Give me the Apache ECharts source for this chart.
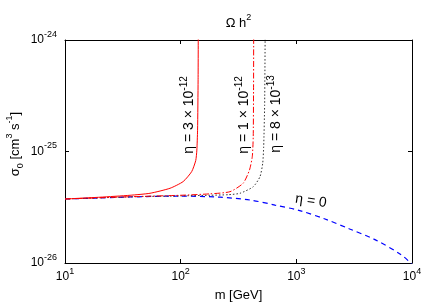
<!DOCTYPE html>
<html><head><meta charset="utf-8">
<script src="https://cdn.jsdelivr.net/npm/echarts@6/dist/echarts.min.js"></script>
<style>html,body{margin:0;padding:0;background:#fff}#c{width:436px;height:305px}</style>
</head><body><div id="c"></div>
<script>
// ---- data ----
const xTickExponents = [1, 2, 3, 4];        // m axis: 10^1 .. 10^4 GeV
const yTickExponents = [-26, -25, -24];     // sigma axis: 10^-26 .. 10^-24

// eta = 0 (blue dashed)
const massEta0  = [10, 20, 36.5, 60, 100, 219, 398, 653, 1070, 1770, 2890, 4790, 7930, 9560, 10000];
const sigmaEta0 = [3.75e-26, 3.83e-26, 3.91e-26, 3.96e-26, 3.98e-26, 3.89e-26, 3.67e-26, 3.31e-26, 2.95e-26, 2.48e-26, 2.02e-26, 1.62e-26, 1.20e-26, 1.02e-26, 0.97e-26];

// eta = 3e-12 (red solid)
const massEta3e12  = [10, 20, 36.5, 54.3, 80.9, 105, 124.5, 135, 138, 140, 141.5, 142];
const sigmaEta3e12 = [3.75e-26, 3.89e-26, 4.05e-26, 4.22e-26, 4.68e-26, 5.37e-26, 6.6e-26, 8.3e-26, 1.03e-25, 1.55e-25, 4.4e-25, 1.3e-24];

// eta = 1e-12 (red dash-dot)
const massEta1e12  = [10, 36.5, 100, 179, 267, 347, 393, 416, 424, 426.5, 428];
const sigmaEta1e12 = [3.75e-26, 3.93e-26, 4.05e-26, 4.17e-26, 4.36e-26, 5.19e-26, 6.8e-26, 8.97e-26, 1.36e-25, 3.2e-25, 1.3e-24];

// eta = 8e-13 (black dotted)
const massEta8e13  = [10, 36.5, 100, 179, 260, 326, 424, 485, 512, 522, 532, 538];
const sigmaEta8e13 = [3.75e-26, 3.92e-26, 4.0e-26, 4.05e-26, 4.1e-26, 4.22e-26, 4.83e-26, 5.94e-26, 7.83e-26, 1.1e-25, 2.6e-25, 1.3e-24];

const curveLabels = ['η = 3 × 10{s|-12}', 'η = 1 × 10{s|-12}', 'η = 8 × 10{s|-13}', 'η = 0'];

// ---- chart ----
// y values are plotted in units of 1e-26 cm^3/s to keep the log scale numerically safe
const Y_UNIT_EXP = -26;
const Y_UNIT = Math.pow(10, Y_UNIT_EXP);
const FONT = '"Liberation Sans", Arial, Helvetica, sans-serif';
const pairs = (xs, ys) => xs.map((x, i) => [x, ys[i] / Y_UNIT]);
const richSup = {
  b: { fontSize: 12, lineHeight: 20, fontFamily: FONT, color: '#000' },
  s: { fontSize: 9, lineHeight: 9, verticalAlign: 'top', fontFamily: FONT, color: '#000' }
};
const expOf = v => Math.round(Math.log10(v));

const chart = echarts.init(document.getElementById('c'), null, { renderer: 'canvas' });

const frameLine = { show: true, lineStyle: { color: '#000', width: 1 } };
const tickIn = { show: true, inside: true, length: 4, lineStyle: { color: '#000', width: 1 } };

const xMin = Math.pow(10, xTickExponents[0]), xMax = Math.pow(10, xTickExponents[xTickExponents.length - 1]);
const yMin = Math.pow(10, yTickExponents[0] - Y_UNIT_EXP), yMax = Math.pow(10, yTickExponents[yTickExponents.length - 1] - Y_UNIT_EXP);

const option = {
  animation: false,
  backgroundColor: '#fff',
  grid: { left: 65, right: 24, top: 40, bottom: 42, containLabel: false, outerBoundsMode: 'none' },
  xAxis: [
    {
      type: 'log', logBase: 10, min: xMin, max: xMax, position: 'bottom',
      axisLine: frameLine, axisTick: tickIn, splitLine: { show: false },
      axisLabel: { margin: 4, formatter: v => '{b|10}{s|' + expOf(v) + '}', rich: richSup },
      name: 'm [GeV]', nameLocation: 'middle', nameGap: 26,
      nameTextStyle: { fontFamily: FONT, fontSize: 13, color: '#000' }
    },
    {
      type: 'log', logBase: 10, min: xMin, max: xMax, position: 'top',
      axisLine: frameLine, axisTick: tickIn, axisLabel: { show: false }, splitLine: { show: false }
    }
  ],
  yAxis: [
    {
      type: 'log', logBase: 10, min: yMin, max: yMax, position: 'left',
      axisLine: frameLine, axisTick: tickIn, splitLine: { show: false },
      axisLabel: { margin: 8, formatter: v => '{b|10}{s|' + (expOf(v) + Y_UNIT_EXP) + '}', rich: richSup }
    },
    {
      type: 'log', logBase: 10, min: yMin, max: yMax, position: 'right',
      axisLine: frameLine, axisTick: tickIn, axisLabel: { show: false }, splitLine: { show: false }
    }
  ],
  series: [
    { type: 'line', data: pairs(massEta0, sigmaEta0), showSymbol: false, smooth: 0.3, clip: true,
      lineStyle: { color: '#0000ff', width: 1.2, type: [5, 4] } },
    { type: 'line', data: pairs(massEta8e13, sigmaEta8e13), showSymbol: false, smooth: 0.2, clip: true,
      lineStyle: { color: '#333', width: 1, type: [1.5, 2] } },
    { type: 'line', data: pairs(massEta1e12, sigmaEta1e12), showSymbol: false, smooth: 0.2, clip: true,
      lineStyle: { color: '#ff0000', width: 1, type: [6, 2, 1.5, 2] } },
    { type: 'line', data: pairs(massEta3e12, sigmaEta3e12), showSymbol: false, smooth: 0.2, clip: true,
      lineStyle: { color: '#ff0000', width: 1, type: 'solid' } }
  ]
};
chart.setOption(option);

// annotations
const labRich = {
  s: { fontSize: 10, lineHeight: 10, verticalAlign: 'top', fontFamily: FONT, fill: '#000' }
};
function rotText(text, x, y, rot) {
  return {
    type: 'text', x: x, y: y, rotation: rot, silent: true,
    style: { text: text, fontFamily: FONT, fontSize: 14, lineHeight: 20, fill: '#000',
             align: 'center', verticalAlign: 'middle', rich: labRich }
  };
}
chart.setOption({
  graphic: [
    { type: 'text', x: 238.5, y: 23, silent: true,
      style: { text: 'Ω h{s|2}', fontFamily: FONT, fontSize: 13, lineHeight: 20, fill: '#000',
               align: 'center', verticalAlign: 'middle', rich: { s: { fontSize: 9, lineHeight: 9, verticalAlign: 'top', fontFamily: FONT, fill: '#000' } } } },
    { type: 'text', x: 15, y: 144, rotation: Math.PI / 2, silent: true,
      style: { text: 'σ{sb|0} [cm{s|3} s{s|-1}]', fontFamily: FONT, fontSize: 13, lineHeight: 20, fill: '#000',
               align: 'center', verticalAlign: 'middle',
               rich: {
                 sb: { fontSize: 9, lineHeight: 9, verticalAlign: 'bottom', fontFamily: FONT, fill: '#000' },
                 s: { fontSize: 9, lineHeight: 9, verticalAlign: 'top', fontFamily: FONT, fill: '#000' }
               } } },
    rotText(curveLabels[0], 189, 115, Math.PI / 2),
    rotText(curveLabels[1], 244, 115, Math.PI / 2),
    rotText(curveLabels[2], 276, 114, Math.PI / 2),
    rotText(curveLabels[3], 311, 201, -0.14)
  ]
});
</script>
</body></html>
